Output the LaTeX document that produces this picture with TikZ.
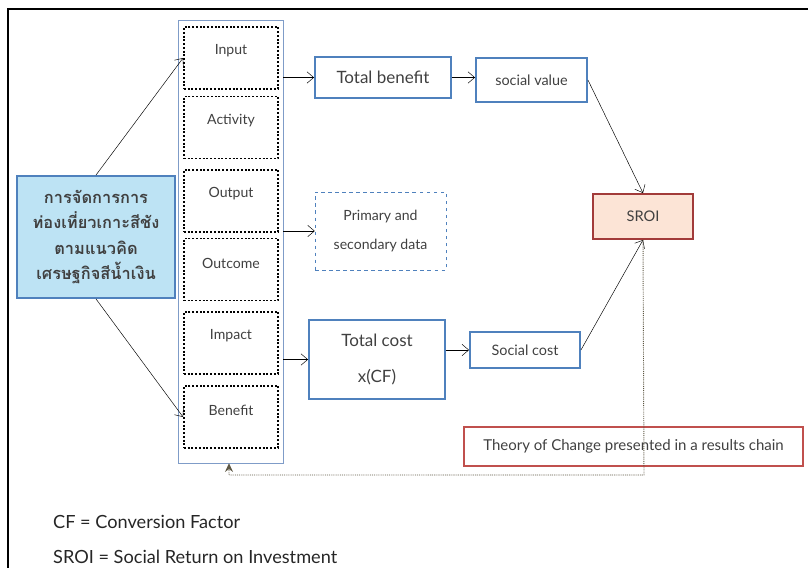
\documentclass[tikz,border=0pt]{standalone}
\usepackage{fontspec}
\setmainfont{Lato}
\newfontfamily\thaifont[Script=Thai]{Loma}
\usetikzlibrary{arrows.meta}
\definecolor{boxblue}{HTML}{4F81BD}
\definecolor{colblue}{HTML}{7F9CC8}
\definecolor{lightblue}{HTML}{BDE3F4}
\definecolor{sroired}{HTML}{A23B3A}
\definecolor{sroifill}{HTML}{FCE4D6}
\definecolor{tocred}{HTML}{C0504D}
\definecolor{txtgray}{HTML}{404040}
\definecolor{dotgray}{HTML}{5E5844}
\begin{document}
\begin{tikzpicture}[x=0.03cm,y=-0.03cm,
    bluebox/.style={draw=boxblue, line width=1.6pt, text=txtgray, font=\fontsize{14.5}{17}\selectfont},
    dotbox/.style={draw=black, line width=1.6pt, dash pattern=on 1.6pt off 1.6pt, minimum width=2.82cm, minimum height=1.86cm},
    lbl/.style={text=txtgray, font=\fontsize{12}{14}\selectfont},
    arr/.style={-{Straight Barb[length=2mm,width=3.4mm]}, thin}]
\useasboundingbox (0,0) rectangle (808,568);

% frame
\draw[line width=1pt] (808,9) -- (8,9) -- (8,568);

% left box
\node [draw=boxblue, fill=lightblue, line width=1.6pt, minimum width=4.74cm, minimum height=3.66cm,
       align=center, text=txtgray, font=\thaifont\bfseries\fontsize{14}{21.5}\selectfont] (tour) at (96,237)
      {การจัดการการ\\ท่องเที่ยวเกาะสีชัง\\ตามแนวคิด\\เศรษฐกิจสีน้ำเงิน};

% results chain column
\node [draw=colblue, thin, minimum width=3.15cm, minimum height=13.29cm] (col) at (230.5,241.5) {};
\node [dotbox, label={[lbl, yshift=-1.05cm]north:Input}] (in) at (231,58) {};
\node [dotbox, label={[lbl, yshift=-1.05cm]north:Activity}] (act) at (231,127.5) {};
\node [dotbox, label={[lbl, yshift=-1.05cm]north:Output}] (out) at (231,201) {};
\node [dotbox, label={[lbl, yshift=-1.05cm]north:Outcome}] (oc) at (231,269.5) {};
\node [dotbox, label={[lbl, yshift=-1.05cm]north:Impact}] (imp) at (231,343) {};
\node [dotbox, label={[lbl, yshift=-1.05cm]north:Benefit}] (ben) at (231,417) {};

% right part
\node [bluebox, minimum width=4.08cm, minimum height=1.23cm] (tb) at (383,77.5) {Total benefit};
\node [bluebox, minimum width=3.33cm, minimum height=1.32cm, font=\fontsize{12.3}{14}\selectfont] (sv) at (531.5,80) {social value};
\node [draw=boxblue, dashed, thin, minimum width=3.93cm, minimum height=2.34cm, align=center,
       lbl, font=\fontsize{12}{25.5}\selectfont] (prim) at (380.5,231) {Primary and\\secondary data};
\node [bluebox, minimum width=4.08cm, minimum height=2.37cm, align=center, font=\fontsize{14.5}{33}\selectfont] (tc) at (377,359.5) {\raisebox{-3pt}{Total cost}\\x(CF)};
\node [bluebox, minimum width=3.3cm, minimum height=1.08cm, font=\fontsize{12.3}{14}\selectfont] (sc) at (525,350) {Social cost};
\node [draw=sroired, fill=sroifill, line width=1.6pt, minimum width=3cm, minimum height=1.35cm,
       text=txtgray, font=\fontsize{12.5}{14}\selectfont] (sroi) at (643,216.5) {SROI};
\node [draw=tocred, line width=1.4pt, minimum width=10.17cm, minimum height=1.17cm, lbl,
       font=\fontsize{12.8}{15}\selectfont] (toc) at (633.5,446.5)
      {Theory of Change presented in a results chain};

% connectors
\draw[arr] (tour.north) -- (in.west);
\draw[arr] (tour.south) -- (ben.west);
\draw[arr] (col.east |- tb.west) -- (tb.west);
\draw[arr] (col.east |- prim.west) -- (prim.west);
\draw[arr] (col.east |- tc.west) -- (tc.west);
\draw[arr] (tb.east) -- (sv.west |- tb.east);
\draw[arr] (tc.east |- sc.west) -- (sc.west);
\draw[arr] (sv.east) -- (sroi.north);
\draw[arr] (sc.east) -- (sroi.south);

% feedback loop
\coordinate (fb1) at (644,475);
\coordinate (fb2) at (229,475);
\draw[dotgray, line width=0.8pt, dash pattern=on 0.8pt off 0.8pt, -{Stealth[length=2.6mm,width=2.4mm]}] (sroi.south) -- (fb1) -- (fb2) -- (col.south -| fb2);

% notes
\node [anchor=west, font=\fontsize{15.5}{18}\selectfont, text=black!85] (cf) at (49,522) {CF = Conversion Factor};
\node [anchor=west, font=\fontsize{15.5}{18}\selectfont, text=black!85] (sr) at (49,557) {SROI = Social Return on Investment};
\end{tikzpicture}
\end{document}
